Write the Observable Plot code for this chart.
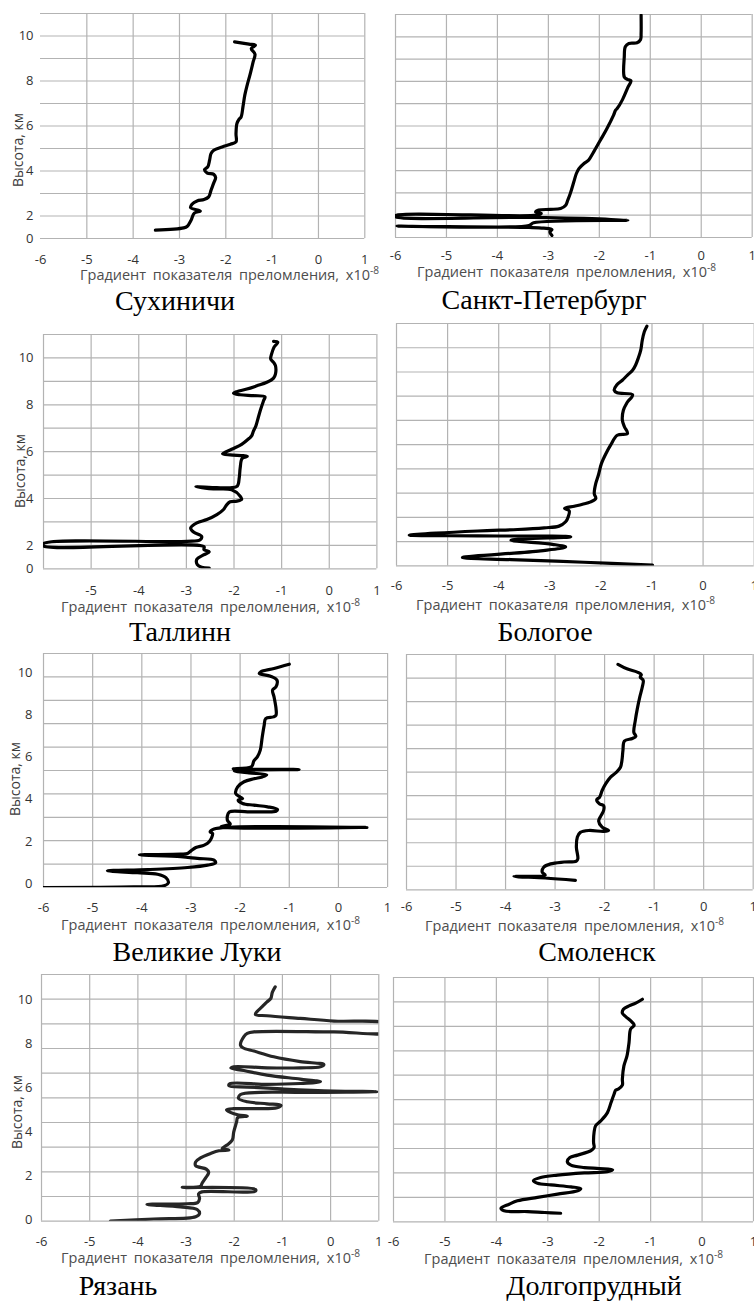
<!DOCTYPE html>
<html><head><meta charset="utf-8">
<script src="https://cdn.jsdelivr.net/npm/d3@7"></script>
<script src="https://cdn.jsdelivr.net/npm/@observablehq/plot@0.6"></script>
<style>
body{margin:0;background:#fff;}
#root{position:relative;width:754px;height:1302px;overflow:hidden;background:#fff;}
.abs{position:absolute;white-space:nowrap;line-height:1;}
.xt{font-family:"Open Sans",sans-serif;font-size:13px;color:#4d4d4d;word-spacing:3px;transform:translateY(-50%);}
.xt sup{font-size:0.7em;vertical-align:0.55em;line-height:0;}
.yt{font-family:"Open Sans",sans-serif;font-size:14px;color:#3a3a3a;transform:translate(-50%,-50%) rotate(-90deg);}
.city{font-family:"Liberation Serif","Times New Roman",serif;font-size:28px;color:#000;transform:translate(-50%,-50%);}
</style></head><body><div id="root"></div>
<script>
// ---------- data: [gradient x10^-8, height km] ----------
const xTickValues = [-6, -5, -4, -3, -2, -1, 0, 1];
const yTickValues = [0, 2, 4, 6, 8, 10];
const stations = ["Сухиничи", "Санкт-Петербург", "Таллинн", "Бологое", "Великие Луки", "Смоленск", "Рязань", "Долгопрудный"];
const xTitle = "Градиент показателя преломления, х10";
const xTitleExp = "-8";
const yTitle = "Высота, км";

const suhinichi = [[-1.81,9.74],[-1.50,9.64],[-1.36,9.59],[-1.45,9.44],[-1.37,9.19],[-1.41,8.85],[-1.48,8.26],[-1.54,7.81],[-1.59,7.37],[-1.63,6.85],[-1.67,6.40],[-1.71,6.31],[-1.76,6.11],[-1.78,5.66],[-1.78,5.29],[-1.90,5.19],[-2.08,5.07],[-2.26,4.92],[-2.32,4.77],[-2.35,4.48],[-2.39,4.18],[-2.46,4.06],[-2.40,3.91],[-2.26,3.85],[-2.22,3.71],[-2.26,3.47],[-2.32,3.14],[-2.37,2.85],[-2.47,2.73],[-2.62,2.67],[-2.73,2.52],[-2.76,2.37],[-2.55,2.22],[-2.68,2.13],[-2.75,1.62],[-2.83,1.09],[-2.91,0.94],[-3.52,0.74]];
const stPetersburg = [[-1.18,9.97],[-1.18,9.15],[-1.19,8.88],[-1.26,8.73],[-1.42,8.70],[-1.49,8.55],[-1.51,8.10],[-1.51,7.20],[-1.45,7.09],[-1.38,7.03],[-1.44,6.73],[-1.55,6.16],[-1.65,5.78],[-1.68,5.71],[-1.72,5.49],[-1.85,4.89],[-1.98,4.36],[-2.11,3.84],[-2.21,3.47],[-2.30,3.32],[-2.40,3.09],[-2.45,2.87],[-2.50,2.50],[-2.57,1.97],[-2.62,1.67],[-2.66,1.45],[-2.76,1.30],[-2.96,1.26],[-3.19,1.23],[-3.25,1.14],[-3.14,1.08],[-3.23,1.00],[-6.00,0.99],[-6.00,0.93],[-3.29,0.90],[-1.44,0.78],[-3.29,0.66],[-3.38,0.54],[-5.97,0.51],[-3.38,0.45],[-3.09,0.42],[-2.93,0.36],[-2.97,0.25],[-2.93,0.09]];
const tallinn = [[-1.17,10.71],[-1.08,10.67],[-1.16,10.46],[-1.21,10.17],[-1.23,9.96],[-1.17,9.81],[-1.13,9.67],[-1.13,9.31],[-1.17,9.14],[-1.31,8.96],[-1.52,8.81],[-1.73,8.67],[-1.94,8.56],[-2.01,8.49],[-1.87,8.43],[-1.59,8.39],[-1.35,8.34],[-1.38,8.17],[-1.44,7.81],[-1.49,7.46],[-1.54,7.10],[-1.59,6.89],[-1.63,6.67],[-1.68,6.57],[-1.84,6.31],[-2.05,6.10],[-2.24,5.91],[-2.08,5.86],[-1.80,5.83],[-1.72,5.80],[-1.83,5.71],[-1.87,5.31],[-1.89,4.89],[-1.93,4.53],[-2.08,4.46],[-2.36,4.46],[-2.80,4.50],[-2.43,4.41],[-2.05,4.37],[-1.87,4.10],[-1.84,3.96],[-1.94,3.89],[-2.08,3.86],[-2.15,3.74],[-2.22,3.53],[-2.36,3.31],[-2.57,3.10],[-2.78,2.96],[-2.91,2.74],[-2.85,2.57],[-2.68,2.39],[-2.71,2.24],[-2.99,2.17],[-6.00,2.08],[-6.00,1.95],[-2.63,1.89],[-2.63,1.64],[-2.52,1.45],[-2.64,1.18],[-2.78,0.82],[-2.77,0.36],[-2.68,0.14],[-2.52,0.05]];
const bologoe = [[-1.10,9.89],[-1.15,9.66],[-1.19,9.31],[-1.22,8.90],[-1.27,8.56],[-1.32,8.29],[-1.38,8.07],[-1.48,7.87],[-1.58,7.66],[-1.69,7.46],[-1.74,7.25],[-1.68,7.14],[-1.38,7.06],[-1.49,6.73],[-1.56,6.42],[-1.58,6.01],[-1.54,5.74],[-1.48,5.46],[-1.68,5.39],[-1.81,4.98],[-1.90,4.64],[-1.99,4.22],[-2.05,3.74],[-2.10,3.40],[-2.13,2.98],[-2.10,2.78],[-2.20,2.64],[-2.36,2.54],[-2.52,2.46],[-2.71,2.37],[-2.62,2.27],[-2.64,2.02],[-2.69,1.82],[-2.82,1.64],[-3.11,1.57],[-3.63,1.50],[-4.41,1.44],[-5.75,1.27],[-4.41,1.24],[-2.59,1.20],[-3.76,1.06],[-2.95,0.89],[-2.69,0.78],[-3.18,0.62],[-4.71,0.34],[-3.76,0.26],[-2.33,0.15],[-0.99,0.03]];
const velikieLuki = [[-1.00,10.41],[-1.31,10.21],[-1.58,10.05],[-1.61,9.97],[-1.38,9.84],[-1.25,9.65],[-1.27,9.34],[-1.34,9.18],[-1.31,8.86],[-1.27,8.31],[-1.27,7.99],[-1.32,7.91],[-1.48,7.83],[-1.51,7.52],[-1.55,6.96],[-1.59,6.33],[-1.65,6.01],[-1.72,5.82],[-1.77,5.54],[-2.14,5.44],[-0.80,5.41],[-2.12,5.35],[-1.82,5.25],[-1.46,5.16],[-1.55,5.06],[-1.72,4.97],[-1.92,4.83],[-2.05,4.59],[-2.09,4.27],[-2.00,4.11],[-1.95,4.03],[-2.04,3.96],[-1.95,3.80],[-1.72,3.72],[-1.44,3.64],[-1.24,3.51],[-1.27,3.43],[-1.51,3.40],[-1.85,3.40],[-2.22,3.39],[-2.26,3.01],[-2.20,2.82],[-2.39,2.69],[0.58,2.66],[-2.53,2.59],[-2.61,2.45],[-2.56,2.37],[-2.63,1.98],[-2.73,1.82],[-2.90,1.71],[-3.00,1.55],[-3.07,1.42],[-3.21,1.39],[-4.05,1.36],[-3.21,1.27],[-2.87,1.19],[-2.53,1.11],[-2.50,0.98],[-2.66,0.87],[-3.07,0.76],[-3.88,0.66],[-4.70,0.60],[-4.09,0.51],[-3.68,0.44],[-3.51,0.28],[-3.46,0.03],[-3.55,-0.11],[-4.16,-0.16],[-6.00,-0.19]];
const smolensk = [[-1.73,9.58],[-1.55,9.39],[-1.34,9.25],[-1.26,9.15],[-1.28,9.04],[-1.22,8.90],[-1.24,8.61],[-1.29,8.19],[-1.34,7.69],[-1.38,7.20],[-1.41,6.70],[-1.37,6.52],[-1.44,6.43],[-1.60,6.32],[-1.63,5.92],[-1.65,5.50],[-1.68,5.21],[-1.76,5.00],[-1.88,4.79],[-1.98,4.50],[-2.05,4.22],[-2.10,3.94],[-2.16,3.82],[-2.10,3.65],[-2.02,3.58],[-2.02,3.37],[-2.07,3.16],[-2.12,2.92],[-2.05,2.66],[-1.92,2.52],[-2.02,2.48],[-2.32,2.52],[-2.49,2.44],[-2.55,2.24],[-2.57,1.81],[-2.54,1.32],[-2.57,1.22],[-2.82,1.18],[-3.09,1.10],[-3.23,0.96],[-3.26,0.75],[-3.20,0.62],[-3.83,0.57],[-3.20,0.50],[-2.59,0.40]];
const ryazan = [[-1.15,10.57],[-1.21,10.32],[-1.24,10.05],[-1.32,9.89],[-1.42,9.67],[-1.53,9.44],[-1.56,9.32],[-1.32,9.26],[-0.63,9.14],[0.07,9.02],[1.2,8.88],[1.2,8.53],[0.07,8.53],[-1.59,8.53],[-1.73,8.46],[-1.80,8.31],[-1.87,7.93],[-1.82,7.81],[-1.59,7.66],[-1.18,7.40],[-0.63,7.18],[-0.14,7.05],[-0.21,6.95],[-0.63,6.90],[-1.32,6.90],[-2.01,6.95],[-2.07,6.89],[-1.80,6.78],[-1.32,6.57],[-0.63,6.39],[-0.21,6.27],[-0.63,6.19],[-1.32,6.15],[-2.09,6.18],[-2.11,6.09],[-1.73,6.03],[-0.97,5.94],[0.07,5.85],[0.96,5.82],[-0.63,5.79],[-1.46,5.79],[-1.87,5.69],[-1.91,5.51],[-1.73,5.36],[-1.32,5.27],[-1.03,5.20],[-1.11,5.09],[-1.59,5.05],[-2.01,5.05],[-2.16,5.00],[-2.08,4.88],[-1.91,4.76],[-1.73,4.71],[-1.93,4.64],[-1.95,4.46],[-2.01,4.00],[-2.04,3.63],[-2.15,3.40],[-2.25,3.25],[-2.11,3.17],[-2.32,3.14],[-2.49,3.02],[-2.70,2.82],[-2.80,2.64],[-2.80,2.46],[-2.58,2.31],[-2.53,2.16],[-2.60,1.89],[-2.67,1.66],[-2.70,1.53],[-3.08,1.48],[-1.56,1.39],[-1.56,1.31],[-2.67,1.28],[-2.74,1.19],[-2.72,0.98],[-2.76,0.79],[-2.98,0.74],[-3.81,0.71],[-3.12,0.60],[-2.77,0.48],[-2.72,0.30],[-2.80,0.15],[-3.67,0.05],[-4.57,-0.05]];
const dolgoprudny = [[-1.16,9.11],[-1.29,8.95],[-1.42,8.84],[-1.53,8.70],[-1.55,8.54],[-1.48,8.39],[-1.39,8.23],[-1.32,8.05],[-1.39,7.89],[-1.42,7.34],[-1.46,6.79],[-1.52,6.38],[-1.55,5.84],[-1.55,5.59],[-1.63,5.43],[-1.68,5.39],[-1.71,5.23],[-1.77,4.88],[-1.84,4.47],[-1.97,4.13],[-2.07,3.93],[-2.10,3.66],[-2.11,3.25],[-2.10,3.04],[-2.16,2.91],[-2.42,2.73],[-2.57,2.63],[-2.62,2.46],[-2.55,2.32],[-2.29,2.22],[-2.00,2.18],[-1.74,2.13],[-1.84,2.05],[-2.29,2.00],[-2.81,1.91],[-3.14,1.81],[-3.28,1.68],[-3.20,1.58],[-2.94,1.51],[-2.55,1.43],[-2.36,1.36],[-2.42,1.27],[-2.81,1.13],[-3.20,1.00],[-3.59,0.86],[-3.75,0.72],[-3.91,0.55],[-3.85,0.45],[-3.39,0.42],[-3.06,0.38],[-2.75,0.35]];
const profiles = [suhinichi, stPetersburg, tallinn, bologoe, velikieLuki, smolensk, ryazan, dolgoprudny];

// ---------- layout (page pixels) ----------
// "split" panels: the original axis has one grid step from 0 to 2 km, then 1 km per grid step up to 11 km
const layout = [
  {L:40, R:364.3, T:13.3, B:238.3, split:true, yLab:{pad:7, title:[18,150]}, noLeft:true, tickY:259, xt:[80,275], city:[175,301]},
  {L:395.3, R:752, T:14.3, B:237.3, yDomain:[0,10], tickY:255, xt:[417,272], city:[544,300]},
  {L:43.3, R:376.7, T:334, B:568.3, split:true, yLab:{pad:10, title:[20,471]}, skipX:-6, tickY:590, xt:[61,607], city:[180,632]},
  {L:396, R:753.7, T:323.3, B:565.7, yDomain:[0,10], tickY:585, xt:[416,605], city:[545,632]},
  {L:42.7, R:386.8, T:653.3, B:887.3, yDomain:[-0.19,10.92], yLab:{pad:11, title:[15,779]}, tickY:907, xt:[61,925], city:[197,952]},
  {L:406.3, R:753, T:654, B:889.3, yDomain:[0,10], tickY:906, xt:[425,926], city:[597,952]},
  {L:41, R:378.3, T:974.3, B:1221, yDomain:[-0.05,11.13], yLab:{pad:9, title:[17,1112]}, tickY:1241, xt:[61,1258], city:[118,1286], stroke:"#262626"},
  {L:393, R:753, T:976.7, B:1221, yDomain:[0,10], tickY:1241, xt:[424,1259], city:[594,1286]}
];

// split axis: km -> grid position and back
const toGrid = v => (v <= 2 ? v / 2 : v - 1);
const fromGrid = u => (u <= 1 ? u * 2 : u + 1);

const root = document.getElementById("root");
const gridColor = "#b3b3b3";

function addDiv(cls, html, x, y) {
  const d = document.createElement("div");
  d.className = "abs " + cls;
  d.innerHTML = html;
  d.style.left = x + "px";
  d.style.top = y + "px";
  root.appendChild(d);
  return d;
}

layout.forEach((p, i) => {
  const mL = p.yLab ? 42 : 4, mR = 4, mT = 4, mB = 34;
  const fw = p.R - p.L, fh = p.B - p.T;
  const width = fw + mL + mR, height = fh + mT + mB;
  const dom = p.split ? [0, 10] : p.yDomain;
  const yAcc = p.split ? (d => toGrid(d[1])) : (d => d[1]);
  const gridVals = d3.range(11).map(k => dom[0] + k * (dom[1] - dom[0]) / 10);
  const yTickPos = p.split ? yTickValues.map(toGrid) : yTickValues;
  const yFmt = p.split ? (u => String(Math.round(fromGrid(u)))) : (d => String(d));
  const xGrid = p.noLeft ? xTickValues.slice(1) : xTickValues;
  const xLabels = xTickValues.filter(v => v !== p.skipX);
  const fs = 13;
  const marks = [
    Plot.ruleY(gridVals, {stroke: gridColor, strokeWidth: 1.2}),
    Plot.ruleX(xGrid, {stroke: gridColor, strokeWidth: 1.2}),
    Plot.axisX({ticks: xLabels, tickSize: 0, tickPadding: p.tickY - p.B - 0.35 * fs, tickFormat: d => String(d), fontSize: fs, fill: "#333"}),
    Plot.line(profiles[i], {x: d => d[0], y: yAcc, stroke: p.stroke || "#000", strokeWidth: 3.2, curve: "catmull-rom", strokeLinecap: "round", strokeLinejoin: "round", clip: true})
  ];
  if (p.yLab) marks.push(Plot.axisY({ticks: yTickPos, tickSize: 0, tickPadding: p.yLab.pad, tickFormat: yFmt, fontSize: fs, fill: "#333"}));
  const svg = Plot.plot({
    width, height, marginLeft: mL, marginRight: mR, marginTop: mT, marginBottom: mB,
    x: {domain: [-6, 1], axis: null},
    y: {domain: dom, axis: null},
    style: {background: "transparent", overflow: "visible", fontFamily: "'Open Sans', sans-serif", fontSize: fs + "px", color: "#333"},
    marks
  });
  svg.style.position = "absolute";
  svg.style.left = (p.L - mL) + "px";
  svg.style.top = (p.T - mT) + "px";
  svg.style.maxWidth = "none";
  root.appendChild(svg);

  const xt = addDiv("xt", xTitle + "<sup>" + xTitleExp + "</sup>", p.xt[0], p.xt[1]);
  const w = xt.getBoundingClientRect().width;
  xt.style.fontSize = (13 * 300 / w).toFixed(2) + "px";
  if (p.yLab) addDiv("yt", yTitle, p.yLab.title[0], p.yLab.title[1]);
  addDiv("city", stations[i], p.city[0], p.city[1]);
});
</script></body></html>
